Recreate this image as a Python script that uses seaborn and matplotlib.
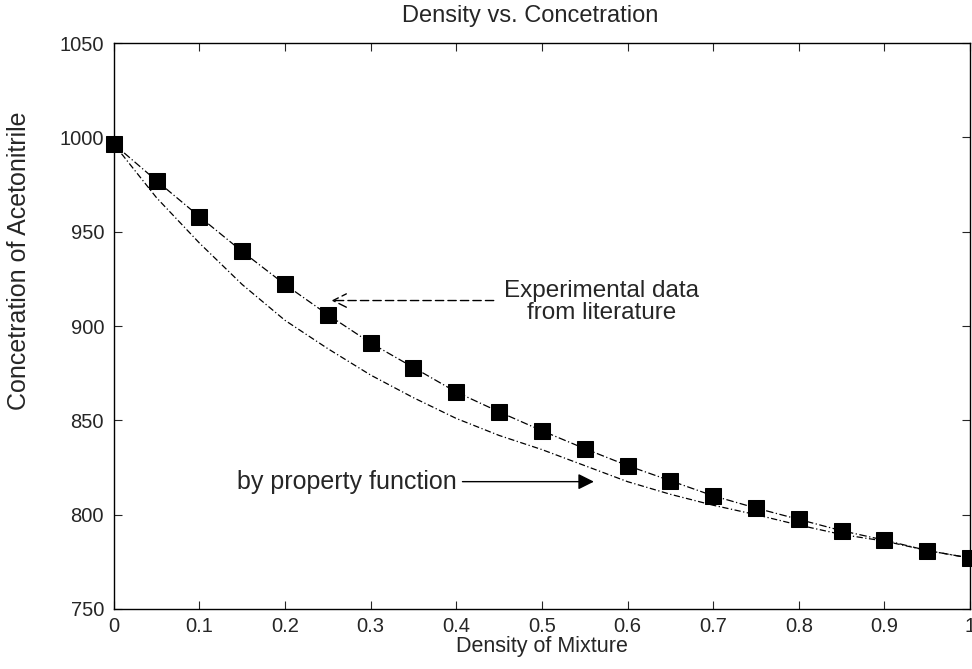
import matplotlib
matplotlib.use("Agg")
import matplotlib.pyplot as plt
import seaborn as sns
import pandas as pd

x_frac = [0.0, 0.05, 0.1, 0.15, 0.2, 0.25, 0.3, 0.35, 0.4, 0.45, 0.5,
          0.55, 0.6, 0.65, 0.7, 0.75, 0.8, 0.85, 0.9, 0.95, 1.0]
exp_vals = [996.5, 977, 958, 939.5, 922, 906, 891, 878, 865, 854.5, 844.5,
            835, 826, 818, 810, 803.5, 797.5, 791.5, 786.5, 781, 777]
prop_vals = [996.5, 968, 944, 922, 903, 888, 874, 862, 851, 842, 834.5,
             826, 817.5, 810.8, 805, 800, 794.5, 789.5, 786, 781, 777]

sns.set_style("ticks")
plt.rcParams["font.family"] = ["Liberation Sans", "DejaVu Sans"]

df = pd.DataFrame({"x": x_frac, "exp": exp_vals, "prop": prop_vals})

fig = plt.figure(figsize=(9.72, 6.69), dpi=100)
ax = fig.add_axes([0.117, 0.0897, 0.881, 0.846])

sns.lineplot(data=df, x="x", y="prop", ax=ax, color="black", linewidth=0.9,
             linestyle=(0, (5, 2, 1, 2)))
sns.lineplot(data=df, x="x", y="exp", ax=ax, color="black", linewidth=0.9,
             linestyle=(0, (6, 2, 1, 2)), marker="s", markersize=11.5,
             markeredgecolor="black", markerfacecolor="black", clip_on=False)

ax.set_xlim(0, 1)
ax.set_ylim(750, 1050)
ax.set_xticks([0, 0.1, 0.2, 0.3, 0.4, 0.5, 0.6, 0.7, 0.8, 0.9, 1.0])
ax.set_xticklabels(["0", "0.1", "0.2", "0.3", "0.4", "0.5", "0.6", "0.7", "0.8", "0.9", "1"])
ax.set_yticks([750, 800, 850, 900, 950, 1000, 1050])
ax.tick_params(direction="in", top=True, right=True, length=6, width=0.8,
               labelsize=14.5)
ax.tick_params(axis="y", pad=7)
ax.tick_params(axis="x", pad=6)
for s in ax.spines.values():
    s.set_linewidth(1.0)
    s.set_color("black")

ax.set_title("Density vs. Concetration", fontsize=17, pad=15, x=0.486)
ax.set_xlabel("Density of Mixture", fontsize=15.5, labelpad=0)
ax.set_ylabel("Concetration of Acetonitrile", fontsize=18)
ax.yaxis.set_label_coords(-0.097, 0.615)

ax.annotate("", xy=(0.251, 913.5), xytext=(0.447, 913.5),
            arrowprops=dict(arrowstyle="->", color="black", lw=1.0,
                            linestyle=(0, (6, 3)), mutation_scale=24))
ax.text(0.5695, 912.7, "Experimental data\nfrom literature", ha="center",
        va="center", fontsize=17.5, linespacing=1.0)

ax.text(0.1435, 817.5, "by property function", ha="left", va="center", fontsize=18)
ax.annotate("", xy=(0.564, 817.5), xytext=(0.404, 817.5),
            arrowprops=dict(arrowstyle="-|>", color="black", lw=1.0,
                            mutation_scale=24))

fig.savefig("out.png", dpi=100)
